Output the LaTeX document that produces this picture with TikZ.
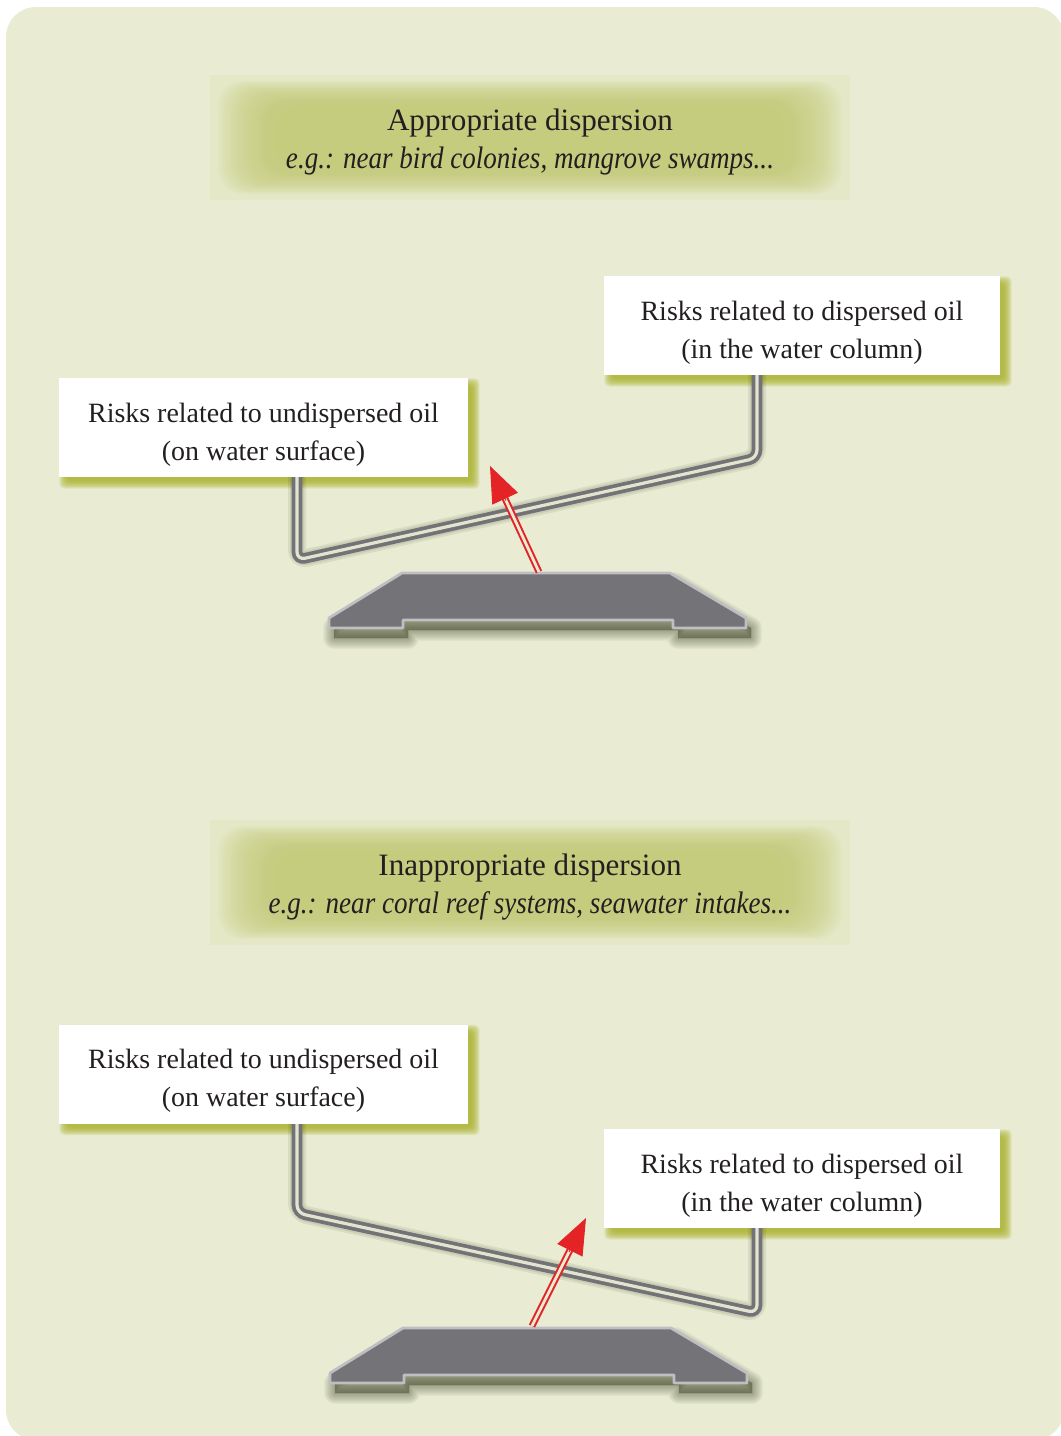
\documentclass[tikz,border=0pt]{standalone}
\usepackage{fontspec}
\setmainfont{Liberation Serif}
\usetikzlibrary{arrows.meta,calc}
\definecolor{bg}{HTML}{E9ECD3}
\definecolor{glowout}{HTML}{E4E8C7}
\definecolor{glowcore}{HTML}{C6CC78}
\definecolor{olivesh}{HTML}{A9B024}
\definecolor{beamgray}{HTML}{727277}
\definecolor{beamgap}{HTML}{E2E4CF}
\definecolor{basefill}{HTML}{747378}
\definecolor{baseedge}{HTML}{BFBFC3}
\definecolor{arrowred}{HTML}{E42326}
\definecolor{txt}{HTML}{231F20}
\definecolor{shdark}{HTML}{2E3318}
\pgfdeclarelayer{bglayer}
\pgfdeclarelayer{shadowlayer}
\pgfdeclarelayer{beamlayer}
\pgfsetlayers{bglayer,shadowlayer,beamlayer,main}
\tikzset{
  riskbox/.style={fill=white, inner sep=0pt, align=center, text=txt,
    minimum height=9.9mm, font=\fontsize{7.95}{10.8}\selectfont},
  titletext/.style={align=center, text=txt, inner sep=0pt, font=\fontsize{8.85}{10.6}\selectfont},
  beam/.style={draw=beamgray, line width=0.37mm, double=beamgap, double distance=0.32mm,
    rounded corners=0.8mm},
  beamshadow/.style={draw=shdark, opacity=0.085, line join=round, rounded corners=1mm},
  baseshape/.style={fill=basefill, draw=baseedge, line width=0.28mm, line join=round},
  baseshadow/.style={fill=shdark, draw=shdark, opacity=0.04, line join=round},
  boxshadow/.style={fill=olivesh, opacity=0.16},
  redshaft/.style={draw=arrowred, line width=0.2mm, double=bg, double distance=0.28mm},
  redhead/.style={draw=arrowred, fill=arrowred, line width=0.1mm, -{Triangle[length=3.6mm,width=2.8mm]}}
}
\newcommand{\glowpanel}[4]{%
  \fill[glowout] (#1,#2) rectangle (#3,#4);
  \foreach \i in {0,...,24} {
    \fill[glowcore, opacity=0.08, rounded corners=2.5mm]
      (#1+8+\i*2.6, #2+6+\i*1.1) rectangle (#3-8-\i*2.6, #4-6-\i*1.1);
  }
}
\newcommand{\shadowof}[1]{%
  \begin{pgfonlayer}{shadowlayer}
  \foreach \e in {5,4,3,2,1,0,-1,-2,-3}
    \fill[boxshadow, rounded corners=0.5mm] ($(#1.north west)+(6-\e,6-\e)$) rectangle ($(#1.south east)+(6+\e,6+\e)$);
  \end{pgfonlayer}}
\newcommand{\basepath}{(402,573) -- (670,573) -- (746,618) -- (746,628) -- (673,628) -- (673,620) -- (403,620) -- (403,628) -- (329,628) -- (329,618) -- cycle}
\newcommand{\baseshadowlayers}{%
  \foreach \w in {2.2,2.0,1.8,1.6,1.4,1.2,1.0,0.8,0.6,0.4,0.2,0.05}
    \path[baseshadow, line width=\w mm, shift={(5,10)}] \basepath;}
\newcommand{\ital}[1]{\scalebox{0.87}[1]{\itshape #1}}
\newcommand{\tstrut}{\rule{0pt}{9.5pt}}
\begin{document}
\begin{tikzpicture}[x=0.1mm,y=-0.1mm]
\useasboundingbox (0,0) rectangle (1060,1436);
\begin{pgfonlayer}{bglayer}
\fill[bg, rounded corners=3mm] (6,7) rectangle (1064,1440);
\glowpanel{210}{75}{850}{200}
\glowpanel{210}{820}{850}{945}
\end{pgfonlayer}

% ---------- top panel ----------
\node[titletext] (T1) at (530,142) {Appropriate dispersion\\ \ital{e.g.: near bird colonies, mangrove swamps...}};

\node[riskbox, minimum width=40.9mm] (L1) at (263.5,427.5) {\tstrut Risks related to undispersed oil\\(on water surface)};
\node[riskbox, minimum width=39.6mm] (R1) at (802,325.5) {\tstrut Risks related to dispersed oil\\(in the water column)};
\shadowof{L1}
\shadowof{R1}

\coordinate (b1a) at ($(L1.south)+(33.5,-20)$);
\coordinate (b1b) at (297,560);
\coordinate (b1c) at (757,458);
\coordinate (b1d) at ($(R1.south)+(-45,-20)$);
\begin{pgfonlayer}{beamlayer}
\foreach \w in {0.6,1.0,1.4,1.8}
  \draw[beamshadow, line width=\w mm, shift={(6,6)}] (b1a) -- (b1b) -- (b1c) -- (b1d);
\draw[beam] (b1a) -- (b1b) -- (b1c) -- (b1d);
\end{pgfonlayer}

\baseshadowlayers
\path[baseshape] \basepath;

\coordinate (a1s) at (539,572);
\coordinate (a1e) at (490,466);
\draw[redshaft] (a1s) -- ($(a1e)!3.3mm!(a1s)$);
\draw[redhead] ($(a1e)!3.8mm!(a1s)$) -- (a1e);

% ---------- bottom panel ----------
\node[titletext] (T2) at (530,887) {Inappropriate dispersion\\ \ital{e.g.: near coral reef systems, seawater intakes...}};

\node[riskbox, minimum width=40.9mm] (L2) at (263.5,1074) {\tstrut Risks related to undispersed oil\\(on water surface)};
\node[riskbox, minimum width=39.6mm] (R2) at (802,1178.5) {\tstrut Risks related to dispersed oil\\(in the water column)};
\shadowof{L2}
\shadowof{R2}

\coordinate (b2a) at ($(L2.south)+(33.5,-20)$);
\coordinate (b2b) at (297,1213);
\coordinate (b2c) at (757,1313);
\coordinate (b2d) at ($(R2.south)+(-45,-20)$);
\begin{pgfonlayer}{beamlayer}
\foreach \w in {0.6,1.0,1.4,1.8}
  \draw[beamshadow, line width=\w mm, shift={(6,6)}] (b2a) -- (b2b) -- (b2c) -- (b2d);
\draw[beam] (b2a) -- (b2b) -- (b2c) -- (b2d);
\end{pgfonlayer}

\begin{scope}[shift={(1,755)}]
\baseshadowlayers
\path[baseshape] \basepath;
\end{scope}

\coordinate (a2s) at (532,1326);
\coordinate (a2e) at (586,1218);
\draw[redshaft] (a2s) -- ($(a2e)!3.3mm!(a2s)$);
\draw[redhead] ($(a2e)!3.8mm!(a2s)$) -- (a2e);
\end{tikzpicture}
\end{document}
